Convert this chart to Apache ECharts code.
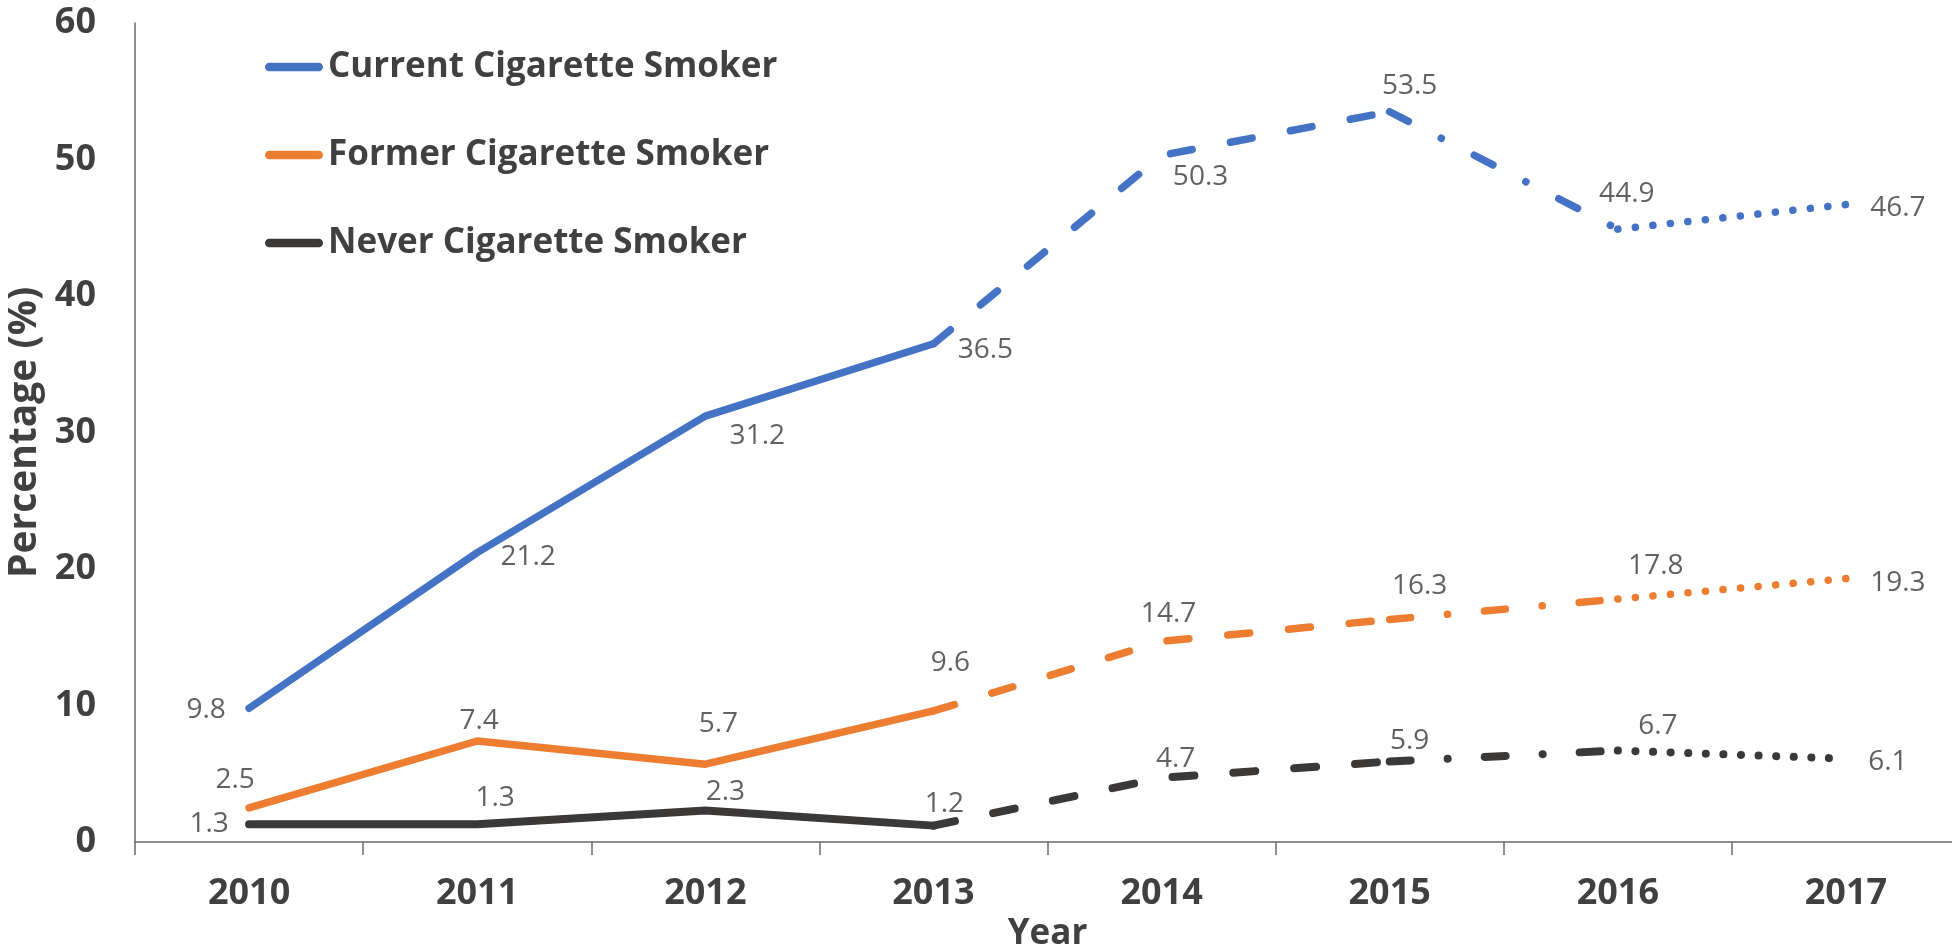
<!DOCTYPE html>
<html>
<head>
<meta charset="utf-8">
<script src="https://cdn.jsdelivr.net/npm/echarts@6/dist/echarts.min.js"></script>
<style>
  html, body { margin: 0; padding: 0; background: #ffffff; }
  #chart { width: 1952px; height: 950px; }
</style>
</head>
<body>
<div id="chart"></div>
<script>
// Survey years on the category axis
const years = ['2010', '2011', '2012', '2013', '2014', '2015', '2016', '2017'];

// Percentages per smoking status
const currentSmoker = [9.8, 21.2, 31.2, 36.5, 50.3, 53.5, 44.9, 46.7];
const formerSmoker  = [2.5, 7.4, 5.7, 9.6, 14.7, 16.3, 17.8, 19.3];
const neverSmoker   = [1.3, 1.3, 2.3, 1.2, 4.7, 5.9, 6.7, 6.1];

const seriesNames = ['Current Cigarette Smoker', 'Former Cigarette Smoker', 'Never Cigarette Smoker'];

// Y axis tick values
const yTicks = { min: 0, max: 60, step: 10 };

// Label placement: pixel offset of each value label from its point
const currentLabelOffsets = [[-43, 2], [51, 4], [52, 20], [52, 6], [39, 22], [20, -26], [9, -35], [52, 3]];
const formerLabelOffsets  = [[-14, -28], [2, -20], [13, -40], [17, -48], [7, -27], [30, -33], [38, -33], [52, 4]];
const neverLabelOffsets   = [[-40, 0], [18, -26], [20, -19], [11, -22], [14, -19], [20, -20], [40, -25], [42, 3]];

const FONT = '"Open Sans", "Noto Sans", sans-serif';
const TEXT = '#404040';
const colors = ['#4472C4', '#ED7D31', '#3B3838'];
const widths = [7.5, 7.5, 8];

// Line style for each stretch of years: solid, dashed, dash-dot, dotted
const segments = [
  { from: 0, to: 3, type: 'solid' },
  { from: 3, to: 5, type: [22, 39] },
  { from: 5, to: 6, type: [21, 37, 0.1, 37] },
  { from: 6, to: 7, type: [0.1, 17.5] }
];

function maskRange(values, from, to) {
  return values.map((v, i) => (i >= from && i <= to ? v : '-'));
}

const groups = [
  { name: seriesNames[0], values: currentSmoker, offsets: currentLabelOffsets },
  { name: seriesNames[1], values: formerSmoker, offsets: formerLabelOffsets },
  { name: seriesNames[2], values: neverSmoker, offsets: neverLabelOffsets }
];

const series = [];
groups.forEach((g, gi) => {
  segments.forEach((seg) => {
    series.push({
      type: 'line',
      name: g.name,
      data: maskRange(g.values, seg.from, seg.to),
      showSymbol: false,
      symbol: 'none',
      connectNulls: false,
      silent: true,
      z: 3 - gi,
      color: colors[gi],
      itemStyle: { color: colors[gi] },
      lineStyle: {
        color: colors[gi],
        width: widths[gi],
        type: seg.type,
        cap: 'round',
        join: 'round'
      },
      emphasis: { disabled: true },
      animation: false
    });
  });
  // value labels
  series.push({
    type: 'scatter',
    name: g.name + ' labels',
    data: g.values.map((v, i) => ({
      value: v,
      label: { offset: g.offsets[i] }
    })),
    symbolSize: 1,
    itemStyle: { color: 'rgba(0,0,0,0)' },
    silent: true,
    z: 10,
    label: {
      show: true,
      position: 'inside',
      fontFamily: FONT,
      fontSize: 28,
      color: '#3a3a3a',
      formatter: (p) => p.value.toFixed(1)
    },
    emphasis: { disabled: true },
    animation: false
  });
});

const chart = echarts.init(document.getElementById('chart'), null, { renderer: 'canvas' });

chart.setOption({
  animation: false,
  backgroundColor: '#ffffff',
  grid: {
    left: 135,
    right: -8,
    top: 23,
    bottom: 108,
    containLabel: false,
    outerBoundsMode: 'none'
  },
  legend: {
    data: seriesNames,
    orient: 'vertical',
    left: 265,
    top: 47,
    padding: 0,
    itemGap: 48,
    itemWidth: 58,
    itemHeight: 8.5,
    icon: 'path://M4.25,0 H53.75 A4.25,4.25 0 0 1 53.75,8.5 H4.25 A4.25,4.25 0 0 1 4.25,0 Z',
    selectedMode: false,
    textStyle: {
      fontFamily: FONT,
      fontSize: 35,
      fontWeight: 'bold',
      color: TEXT,
      lineHeight: 40
    }
  },
  xAxis: {
    type: 'category',
    data: years,
    boundaryGap: true,
    name: 'Year',
    nameLocation: 'middle',
    nameGap: 66,
    nameTextStyle: {
      fontFamily: FONT,
      fontSize: 35,
      fontWeight: 'bold',
      color: TEXT
    },
    axisLine: { show: true, lineStyle: { color: '#6b6b6b', width: 1.5 } },
    axisTick: { show: true, alignWithLabel: false, length: 13, lineStyle: { color: '#6b6b6b', width: 1.5 } },
    axisLabel: {
      fontFamily: FONT,
      fontSize: 36,
      fontWeight: 'bold',
      color: TEXT,
      margin: 34
    },
    splitLine: { show: false }
  },
  yAxis: {
    type: 'value',
    min: yTicks.min,
    max: yTicks.max,
    interval: yTicks.step,
    name: 'Percentage (%)',
    nameLocation: 'middle',
    nameGap: 68,
    nameRotate: 90,
    nameTextStyle: {
      fontFamily: FONT,
      fontSize: 39,
      fontWeight: 'bold',
      color: TEXT
    },
    axisLine: { show: true, lineStyle: { color: '#6b6b6b', width: 1.5 } },
    axisTick: { show: false },
    axisLabel: {
      fontFamily: FONT,
      fontSize: 36,
      fontWeight: 'bold',
      color: TEXT,
      margin: 39
    },
    splitLine: { show: false }
  },
  series: series
});
</script>
</body>
</html>
